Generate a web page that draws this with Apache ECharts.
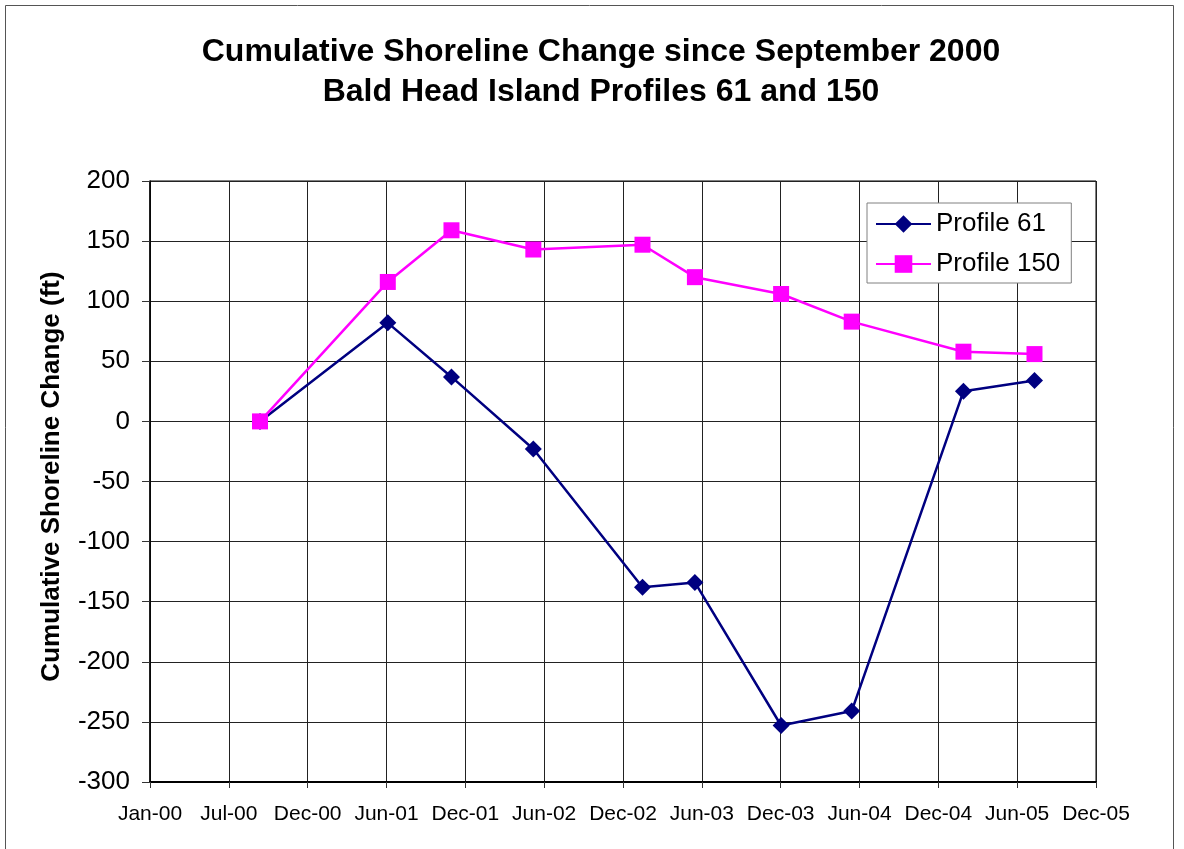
<!DOCTYPE html>
<html>
<head>
<meta charset="utf-8">
<script src="https://cdn.jsdelivr.net/npm/echarts@6/dist/echarts.min.js"></script>
<style>
html,body{margin:0;padding:0;background:#fff;}
#chart{width:1184px;height:849px;}
</style>
</head>
<body>
<div id="chart"></div>
<script>
// Survey dates (shared by both profiles)
const surveyDates = ['2000-09-11','2001-07-03','2001-11-27','2002-06-04','2003-02-11','2003-06-12','2003-12-28','2004-06-08','2005-02-21','2005-08-04'];
const profile61 = [0, 82, 37, -23, -138, -134, -253, -241, 25, 34];
const profile150 = [0, 116, 159, 143, 147, 120, 106, 83, 58, 56];
// X tick labels (every 182 days starting 1 Jan 2000)
const xTickLabels = ['Jan-00','Jul-00','Dec-00','Jun-01','Dec-01','Jun-02','Dec-02','Jun-03','Dec-03','Jun-04','Dec-04','Jun-05','Dec-05'];
const TICK_DAYS = 182;

const origin = Date.UTC(2000, 0, 1);
function dayNum(s) {
  const p = s.split('-').map(Number);
  return (Date.UTC(p[0], p[1] - 1, p[2]) - origin) / 86400000;
}
const xs = surveyDates.map(dayNum);
const d61 = xs.map((x, i) => [x, profile61[i]]);
const d150 = xs.map((x, i) => [x, profile150[i]]);

const FONT = "'Liberation Sans', Arial, sans-serif";
const chart = echarts.init(document.getElementById('chart'), null, {renderer: 'canvas'});
chart.setOption({
  backgroundColor: '#ffffff',
  animation: false,
  title: {
    text: 'Cumulative Shoreline Change since September 2000\nBald Head Island Profiles 61 and 150',
    left: 596,
    textAlign: 'center',
    top: 27,
    textStyle: {fontFamily: FONT, fontSize: 32, fontWeight: 'bold', color: '#000', lineHeight: 40}
  },
  graphic: [{
    type: 'rect',
    shape: {x: 5.5, y: 5.5, width: 1168, height: 870},
    style: {fill: 'none', stroke: '#555', lineWidth: 1},
    silent: true
  }],
  legend: {
    orient: 'vertical',
    left: 867,
    top: 203,
    itemWidth: 55,
    itemHeight: 22,
    itemGap: 14,
    padding: [8, 11, 6, 8],
    backgroundColor: '#fff',
    borderColor: '#808080',
    borderWidth: 1,
    textStyle: {fontFamily: FONT, fontSize: 26, color: '#000'},
    data: ['Profile 61', 'Profile 150']
  },
  grid: {
    left: 150, top: 181, right: 88, bottom: 67,
    show: true, borderColor: '#000', borderWidth: 1, backgroundColor: '#fff'
  },
  xAxis: {
    type: 'value',
    min: 0,
    max: TICK_DAYS * (xTickLabels.length - 1),
    interval: TICK_DAYS,
    axisLine: {show: true, onZero: false, lineStyle: {color: '#000', width: 2}},
    axisTick: {show: true, inside: false, length: 6, lineStyle: {color: '#333'}},
    splitLine: {show: true, lineStyle: {color: '#222', width: 1}},
    axisLabel: {
      fontFamily: FONT, fontSize: 21, color: '#000', margin: 22,
      formatter: function (v) { return xTickLabels[Math.round(v / TICK_DAYS)] || ''; }
    }
  },
  yAxis: {
    type: 'value',
    min: -300, max: 200, interval: 50,
    name: 'Cumulative Shoreline Change (ft)',
    nameLocation: 'middle',
    nameGap: 85,
    nameRotate: 90,
    nameTextStyle: {fontFamily: FONT, fontSize: 26, fontWeight: 'bold', color: '#000', padding: [0, 0, 0, 10]},
    axisLine: {show: true, lineStyle: {color: '#000', width: 1.5}},
    axisTick: {show: true, inside: false, length: 8, lineStyle: {color: '#333'}},
    splitLine: {show: true, lineStyle: {color: '#222', width: 1}},
    axisLabel: {fontFamily: FONT, fontSize: 26, color: '#000', margin: 20}
  },
  series: [
    {
      name: 'Profile 61', type: 'line', data: d61,
      symbol: 'diamond', symbolSize: 17,
      itemStyle: {color: '#000080'},
      lineStyle: {color: '#000080', width: 2.5}
    },
    {
      name: 'Profile 150', type: 'line', data: d150,
      symbol: 'rect', symbolSize: 16,
      itemStyle: {color: '#FF00FF'},
      lineStyle: {color: '#FF00FF', width: 2.5}
    }
  ]
});
</script>
</body>
</html>
